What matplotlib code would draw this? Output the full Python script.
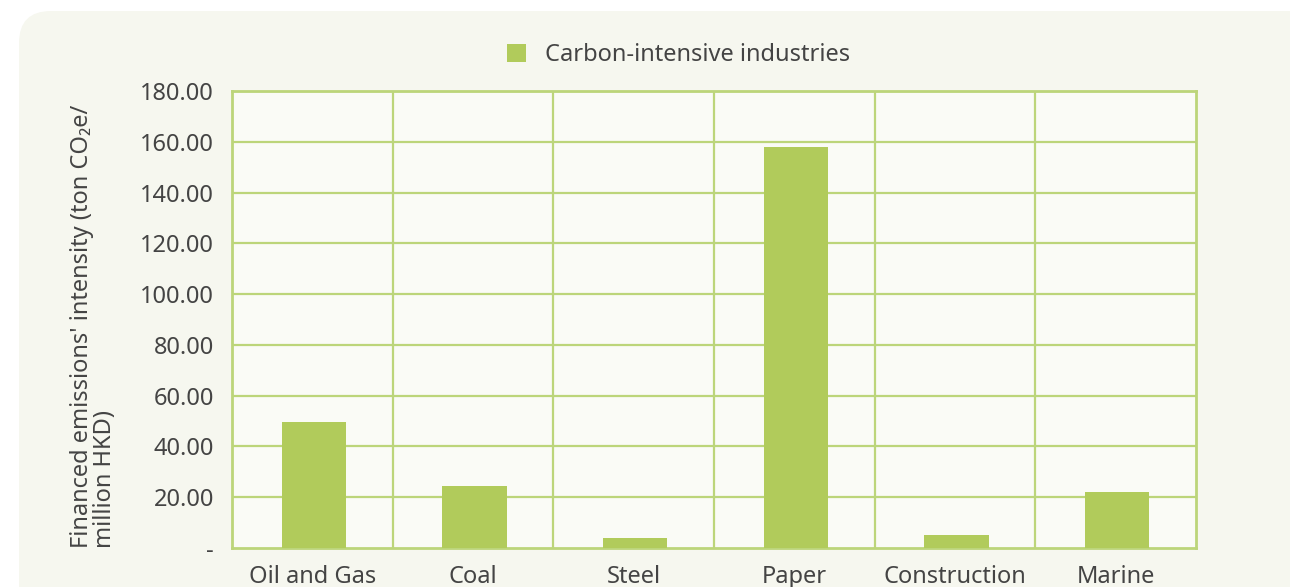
import matplotlib.pyplot as plt
import numpy as np
from matplotlib.patches import FancyBboxPatch
from matplotlib.ticker import FuncFormatter

# data
categories = ["Oil and Gas", "Coal", "Steel", "Paper", "Construction", "Marine"]
intensity = [49.5, 24.6, 4.0, 158.0, 5.2, 22.2]
series_name = "Carbon-intensive industries"
y_ticks = [0, 20, 40, 60, 80, 100, 120, 140, 160, 180]

BAR = "#b1cb5b"
GRID = "#bcd57a"
TXT = "#444444"
FS = 17

plt.rcParams['font.family'] = ['Noto Sans', 'DejaVu Sans']

W, H = 1290, 587
fig = plt.figure(figsize=(W / 100, H / 100), dpi=100)
fig.patch.set_facecolor("white")

# rounded panel background (inches, origin bottom-left)
panel = FancyBboxPatch((0.19, -0.6), 13.5, (H - 11) / 100 + 0.6,
                       boxstyle="round,pad=0,rounding_size=0.32",
                       transform=fig.dpi_scale_trans, facecolor="#f6f7ef",
                       edgecolor="none", zorder=-5)
fig.patches.append(panel)

ax = fig.add_axes([232 / W, 1 - 548 / H, (1196 - 232) / W, (548 - 91) / H])
ax.set_facecolor("#fafbf6")
ax.set_zorder(2)

x = np.arange(len(categories))
ax.bar(x + 0.01, intensity, width=0.4, color=BAR, zorder=3, label=series_name)

ax.set_xlim(-0.5, len(categories) - 0.5)
ax.set_ylim(0, 180)
ax.set_yticks(y_ticks)
ax.yaxis.set_major_formatter(FuncFormatter(lambda v, p: "-" if v == 0 else f"{v:.2f}"))
ax.set_xticks(x)
ax.set_xticklabels(categories)

# grid: horizontal at ticks, vertical at category boundaries
for v in y_ticks[1:]:
    ax.axhline(v, color=GRID, lw=1.6, zorder=1)
for b in np.arange(0.5, len(categories) - 0.5, 1):
    ax.axvline(b, color=GRID, lw=1.6, zorder=1)

for s in ax.spines.values():
    s.set_color(GRID)
    s.set_linewidth(2)

ax.tick_params(axis="both", length=0, labelsize=FS, colors=TXT)
ax.tick_params(axis="y", pad=13)
ax.tick_params(axis="x", pad=12)

ax.text(-0.168, 0, "Financed emissions' intensity (ton CO\u2082e/\nmillion HKD)",
        transform=ax.transAxes, rotation=90, ha="left", va="bottom",
        multialignment="left", fontsize=FS, color=TXT, linespacing=0.95)

ax.legend(loc="center", bbox_to_anchor=(0.463, 1 + 36 / 457), frameon=False,
          fontsize=FS, handlelength=0.8, handleheight=0.8, labelcolor=TXT,
          handletextpad=0.8)

fig.savefig("out.png", dpi=100)
